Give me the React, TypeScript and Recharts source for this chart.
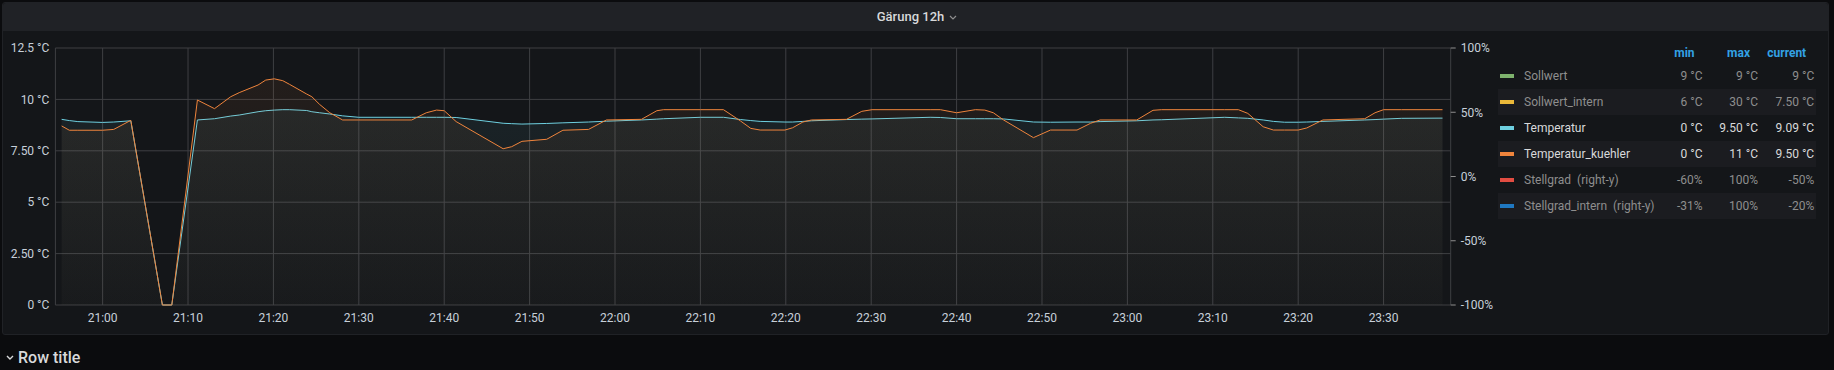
import React from "react";
import {
  ComposedChart,
  Area,
  Line,
  XAxis,
  YAxis,
  CartesianGrid,
} from "recharts";

// minutes after 21:00
const minutes = [
  -4.8, -3.9, -2.9, 0, 1.3, 3.3, 7.0, 8.1, 11.1, 13.1, 15.0, 16.0, 18.2, 19.1,
  20.1, 21.1, 21.9, 23.9, 24.5, 25.4, 26.6, 28.1, 30.0, 36.2, 37.9, 39.1, 40.0,
  41.4, 46.9, 47.9, 49.1, 52.0, 53.9, 56.9, 59.0, 63.1, 64.9, 65.7, 70.0, 72.7,
  74.7, 75.9, 77.0, 79.9, 80.8, 82.0, 83.0, 87.1, 88.9, 90.1, 96.9, 98.1, 100.0,
  102.2, 103.3, 104.3, 105.5, 109.0, 111.0, 114.1, 115.7, 116.8, 121.1, 123.0,
  124.0, 131.4, 133.0, 134.1, 135.9, 137.1, 138.4, 140.0, 141.0, 142.9, 147.8,
  149.0, 150.0, 152.1, 156.9,
];

const temperatur = [
  9.03, 8.97, 8.92, 8.88, 8.9, 8.96, 0, 0, 9.0, 9.06, 9.19, 9.24, 9.4, 9.45,
  9.48, 9.5, 9.5, 9.46, 9.4, 9.35, 9.29, 9.2, 9.13, 9.13, 9.13, 9.13, 9.13,
  9.12, 8.84, 8.82, 8.8, 8.83, 8.86, 8.9, 8.94, 9.0, 9.04, 9.06, 9.13, 9.13,
  9.02, 8.97, 8.93, 8.9, 8.9, 8.93, 8.96, 9.02, 9.04, 9.05, 9.13, 9.12, 9.06,
  9.06, 9.06, 9.06, 9.05, 8.9, 8.89, 8.9, 8.9, 8.92, 8.96, 9.0, 9.01, 9.13,
  9.1, 9.08, 9.0, 8.93, 8.89, 8.89, 8.9, 8.93, 9.0, 9.02, 9.04, 9.08, 9.09,
];

const temperaturKuehler = [
  8.71, 8.5, 8.5, 8.5, 8.54, 8.98, 0, 0, 9.97, 9.55, 10.13, 10.33, 10.7, 10.94,
  11.0, 10.91, 10.73, 10.26, 10.13, 9.76, 9.35, 9.0, 9.0, 9.0, 9.35, 9.48, 9.45,
  8.92, 7.6, 7.7, 7.96, 8.06, 8.5, 8.54, 9.0, 9.03, 9.45, 9.5, 9.5, 9.5,
  8.95, 8.59, 8.51, 8.51, 8.62, 8.9, 9.0, 9.03, 9.42, 9.5, 9.5, 9.5, 9.35,
  9.5, 9.48, 9.35, 9.0, 8.14, 8.51, 8.51, 8.84, 9.0, 9.0, 9.47, 9.5, 9.5,
  9.5, 9.32, 8.67, 8.51, 8.51, 8.51, 8.61, 9.0, 9.06, 9.35, 9.5, 9.5, 9.5,
];

const timeTicks = [0, 10, 20, 30, 40, 50, 60, 70, 80, 90, 100, 110, 120, 130, 140, 150];
const leftTicks = [0, 2.5, 5, 7.5, 10, 12.5];
const leftTickLabels = ["0 °C", "2.50 °C", "5 °C", "7.50 °C", "10 °C", "12.5 °C"];
const rightTicks = [-100, -50, 0, 50, 100];

const legendNames = [
  "Sollwert",
  "Sollwert_intern",
  "Temperatur",
  "Temperatur_kuehler",
  "Stellgrad  (right-y)",
  "Stellgrad_intern  (right-y)",
];
const legendColors = ["#7EB26D", "#EAB839", "#6ED0E0", "#EF843C", "#E24D42", "#1F78C1"];
const legendVisible = [false, false, true, true, false, false];
const legendMin = ["9 °C", "6 °C", "0 °C", "0 °C", "-60%", "-31%"];
const legendMax = ["9 °C", "30 °C", "9.50 °C", "11 °C", "100%", "100%"];
const legendCurrent = ["9 °C", "7.50 °C", "9.09 °C", "9.50 °C", "-50%", "-20%"];

const rows = minutes.map((t, i) => ({
  t,
  temp: temperatur[i],
  kuehl: temperaturKuehler[i],
}));

const fmtTime = (m: number) => {
  const h = 21 + Math.floor(m / 60);
  const mm = ((m % 60) + 60) % 60;
  return `${h}:${String(mm).padStart(2, "0")}`;
};

const FONT = "Roboto, 'Helvetica Neue', Arial, sans-serif";
const TICK = { fill: "#c7d0d9", fontSize: 12, fontFamily: FONT };

function Legend() {
  const colRight = [1702.6, 1758, 1814.2];
  const cell = (text: string, right: number, top: number, color: string, weight = 400) => (
    <div
      style={{
        position: "absolute",
        left: right - 80,
        width: 80,
        top,
        height: 26,
        lineHeight: "26px",
        textAlign: "right",
        color,
        fontWeight: weight,
        fontSize: 12,
      }}
    >
      {text}
    </div>
  );
  return (
    <>
      {cell("min", colRight[0] - 8, 40, "#33a2e5", 700)}
      {cell("max", colRight[1] - 8, 40, "#33a2e5", 700)}
      {cell("current", colRight[2] - 8, 40, "#33a2e5", 700)}
      {legendNames.map((name, i) => {
        const top = 63 + i * 26;
        const c = legendVisible[i] ? "#d8d9da" : "#8e8e8e";
        return (
          <React.Fragment key={name}>
            {i % 2 === 1 && (
              <div
                style={{
                  position: "absolute",
                  left: 1498,
                  width: 318,
                  top,
                  height: 26,
                  background: "#1b1c20",
                }}
              />
            )}
            <div
              style={{
                position: "absolute",
                left: 1500,
                top: top + 11,
                width: 14,
                height: 4,
                background: legendColors[i],
              }}
            />
            <div
              style={{
                position: "absolute",
                left: 1524,
                top,
                height: 26,
                lineHeight: "26px",
                fontSize: 12,
                color: c,
                whiteSpace: "pre",
              }}
            >
              {name}
            </div>
            {cell(legendMin[i], colRight[0], top, c)}
            {cell(legendMax[i], colRight[1], top, c)}
            {cell(legendCurrent[i], colRight[2], top, c)}
          </React.Fragment>
        );
      })}
    </>
  );
}

export default function App() {
  return (
    <div
      style={{
        position: "absolute",
        left: 0,
        top: 0,
        width: 1834,
        height: 370,
        background: "#0b0c0e",
        fontFamily: FONT,
        overflow: "hidden",
      }}
    >
      {/* panel */}
      <div
        style={{
          position: "absolute",
          left: 2,
          top: 2,
          width: 1825,
          height: 331,
          background: "#141619",
          border: "1px solid #202226",
          borderRadius: 3,
        }}
      />
      <div
        style={{
          position: "absolute",
          left: 3,
          top: 3,
          width: 1825,
          height: 28,
          background: "#202226",
          borderRadius: "3px 3px 0 0",
        }}
      />
      <div
        style={{
          position: "absolute",
          left: 0,
          width: 1834,
          top: 3,
          height: 28,
          lineHeight: "28px",
          textAlign: "center",
          color: "#d8d9da",
          fontSize: 13,
          fontWeight: 500,
        }}
      >
        Gärung 12h
        <svg width={8} height={6} style={{ marginLeft: 5, verticalAlign: "middle" }}>
          <polyline points="1,1 4,4 7,1" fill="none" stroke="#8e8e8e" strokeWidth={1.2} />
        </svg>
      </div>

      <div style={{ position: "absolute", left: 0, top: 0 }}>
        <ComposedChart
          width={1834}
          height={370}
          data={rows}
          margin={{ top: 48, right: 343.3, bottom: 45, left: 0 }}
        >
          <defs>
            <linearGradient id="gTemp" x1="0" y1="0" x2="0" y2="1">
              <stop offset="0%" stopColor="#6ED0E0" stopOpacity={0.07} />
              <stop offset="100%" stopColor="#6ED0E0" stopOpacity={0.015} />
            </linearGradient>
            <linearGradient id="gKuehl" x1="0" y1="0" x2="0" y2="1">
              <stop offset="0%" stopColor="#EF843C" stopOpacity={0.07} />
              <stop offset="100%" stopColor="#EF843C" stopOpacity={0.015} />
            </linearGradient>
          </defs>
          <CartesianGrid
            yAxisId="left"
            stroke="#3e3f43"
            strokeWidth={1}
            vertical
            horizontal
          />
          <XAxis
            dataKey="t"
            type="number"
            domain={[-5.53, 157.86]}
            allowDataOverflow
            ticks={timeTicks}
            tickFormatter={fmtTime}
            axisLine={false}
            tickLine={false}
            tickSize={0}
            tickMargin={8}
            height={20}
            tick={TICK}
          />
          <YAxis
            yAxisId="left"
            domain={[0, 12.5]}
            ticks={leftTicks}
            tickFormatter={(v: number) => leftTickLabels[leftTicks.indexOf(v)] ?? String(v)}
            axisLine={false}
            tickLine={false}
            tickSize={0}
            tickMargin={6}
            width={55.4}
            tick={TICK}
          />
          <YAxis
            yAxisId="right"
            orientation="right"
            type="number"
            domain={[-100, 100]}
            allowDataOverflow
            ticks={rightTicks}
            tickFormatter={(v: number) => `${v}%`}
            axisLine={false}
            tickLine={{ stroke: "#8e8e8e" }}
            tickSize={5}
            tickMargin={5}
            width={40}
            tick={TICK}
          />
          {/* Stellgrad series are switched off in the legend: only their axis shows */}
          <Line
            yAxisId="right"
            dataKey="stellgrad"
            stroke="none"
            dot={false}
            activeDot={false}
            legendType="none"
            isAnimationActive={false}
          />
          <Area
            yAxisId="left"
            type="linear"
            dataKey="temp"
            stroke="#6ED0E0"
            strokeWidth={1}
            fill="url(#gTemp)"
            fillOpacity={1}
            dot={false}
            activeDot={false}
            isAnimationActive={false}
          />
          <Area
            yAxisId="left"
            type="linear"
            dataKey="kuehl"
            stroke="#EF843C"
            strokeWidth={1}
            fill="url(#gKuehl)"
            fillOpacity={1}
            dot={false}
            activeDot={false}
            isAnimationActive={false}
          />
        </ComposedChart>
      </div>

      <Legend />

      {/* row title */}
      <svg
        width={10}
        height={8}
        style={{ position: "absolute", left: 5, top: 354 }}
      >
        <polyline points="2,2 5,5 8,2" fill="none" stroke="#d8d9da" strokeWidth={1.4} />
      </svg>
      <div
        style={{
          position: "absolute",
          left: 18,
          top: 347,
          height: 22,
          lineHeight: "22px",
          fontSize: 16,
          fontWeight: 500,
          color: "#d8d9da",
        }}
      >
        Row title
      </div>
    </div>
  );
}
